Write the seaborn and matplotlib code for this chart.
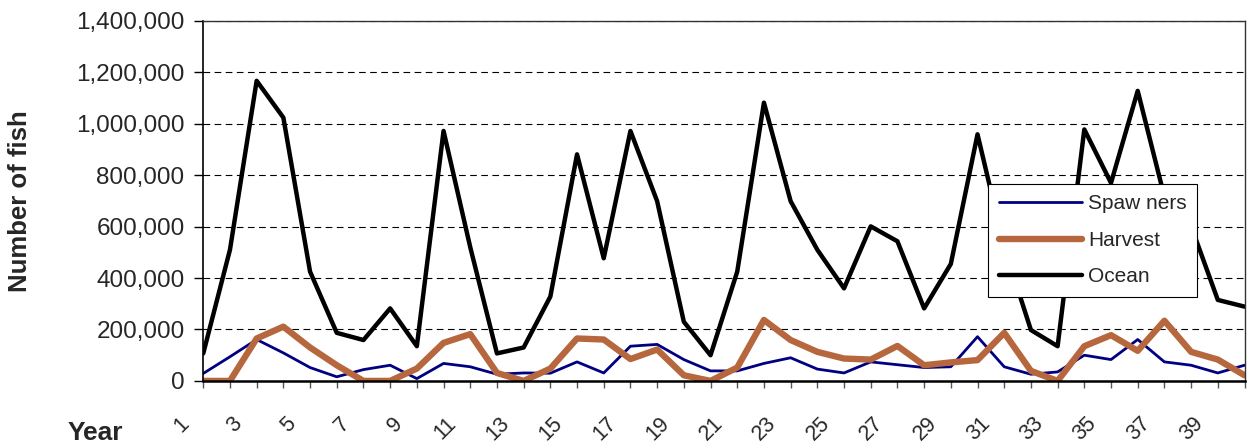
import matplotlib
matplotlib.use("Agg")
import matplotlib.pyplot as plt
import matplotlib.transforms as mtransforms
from matplotlib.ticker import FuncFormatter
import pandas as pd
import seaborn as sns

# values (thousands of fish)
years = list(range(1, 41))
spawners = [29, 94, 161, 109, 52, 16, 44, 61, 9, 68,
            55, 26, 31, 30, 74, 31, 135, 142, 83, 39,
            39, 68, 90, 46, 31, 74, 63, 52, 55, 172,
            55, 26, 35, 100, 83, 161, 74, 61, 31, 61]
harvest = [0, 0, 165, 211, 130, 61, 0, 0, 48, 148,
           182, 31, 0, 48, 165, 161, 85, 122, 22, 0,
           52, 237, 159, 113, 87, 83, 136, 61, 72, 81,
           187, 39, 0, 135, 178, 117, 234, 113, 83, 22]
ocean = [107, 510, 1167, 1024, 425, 187, 159, 282, 135, 972,
         520, 107, 130, 328, 881, 477, 972, 699, 230, 100,
         425, 1082, 699, 510, 360, 601, 543, 282, 455, 959,
         520, 198, 135, 978, 770, 1128, 716, 602, 315, 289]

df = pd.DataFrame({'Year': years,
                   'Spawners': [v * 1000 for v in spawners],
                   'Harvest': [v * 1000 for v in harvest],
                   'Ocean': [v * 1000 for v in ocean]})

sns.set_style("white")
plt.rcParams['font.family'] = ['Liberation Sans', 'DejaVu Sans']

fig = plt.figure(figsize=(12.47, 4.45), dpi=100)
ax = fig.add_axes([0.163, 0.144, 0.835, 0.809])

sns.lineplot(data=df, x='Year', y='Spawners', color='#000080', linewidth=2.0,
             label='Spaw ners', ax=ax)
sns.lineplot(data=df, x='Year', y='Harvest', color='#B7673E', linewidth=4.6,
             label='Harvest', ax=ax)
sns.lineplot(data=df, x='Year', y='Ocean', color='black', linewidth=3.2,
             label='Ocean', ax=ax)

ax.set_xlim(1, 40)
ax.set_ylim(0, 1400000)
ax.set_yticks(range(0, 1400001, 200000))
ax.yaxis.set_major_formatter(FuncFormatter(lambda v, p: f'{int(v):,}'))
ax.set_xticks(years)
ax.set_xticklabels([str(y) if y % 2 == 1 else '' for y in years],
                   rotation=45, ha='right', va='top')

ax.yaxis.grid(True, color='black', linestyle=(0, (6, 4)), linewidth=0.8)
ax.xaxis.grid(False)
ax.set_axisbelow(True)

for s in ['top', 'right']:
    ax.spines[s].set_color('#333333')
    ax.spines[s].set_linewidth(1.0)
ax.spines['left'].set_color('black')
ax.spines['left'].set_linewidth(1.2)
ax.spines['bottom'].set_color('black')
ax.spines['bottom'].set_linewidth(1.8)

ax.tick_params(axis='y', which='major', left=True, length=6.5, width=1,
               color='black', labelsize=17.5, pad=7)
ax.tick_params(axis='x', which='major', bottom=True, length=5, width=1,
               color='#555555', labelsize=15.5, pad=18)
shift = mtransforms.ScaledTranslation(-0.1, 0, fig.dpi_scale_trans)
for lab in ax.get_xticklabels():
    lab.set_transform(lab.get_transform() + shift)

ax.set_ylabel('Number of fish', fontsize=18.5, fontweight='bold')
ax.yaxis.set_label_coords(-0.164, 0.5)
ax.set_xlabel('Year', fontsize=19, fontweight='bold', va='top')
ax.xaxis.set_label_coords(-0.104, -0.11)

leg = ax.legend(loc='upper left', bbox_to_anchor=(0.754, 0.547), borderaxespad=0,
                fontsize=15, handlelength=4.0, handletextpad=0.3,
                labelspacing=0.84, borderpad=0.5,
                frameon=True, fancybox=False, shadow=False)
leg.get_frame().set_edgecolor('black')
leg.get_frame().set_linewidth(0.8)
leg.get_frame().set_facecolor('white')
leg.get_frame().set_alpha(1)

fig.savefig('out.png', dpi=100)
